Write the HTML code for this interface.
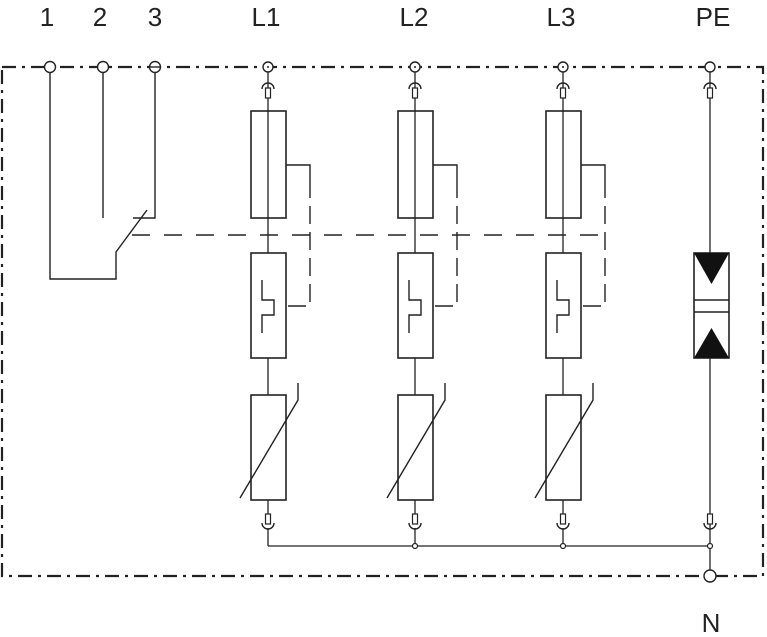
<!DOCTYPE html>
<html><head><style>body{margin:0;background:#fff}svg{display:block}</style></head><body>
<svg width="767" height="637" xmlns="http://www.w3.org/2000/svg">
<defs>
<g id="ch">
<rect x="-17" y="111" width="35" height="107" fill="none" stroke="#222" stroke-width="1.6"/>
<rect x="-17" y="253" width="35" height="105" fill="none" stroke="#222" stroke-width="1.6"/>
<rect x="-17" y="395" width="35" height="105" fill="none" stroke="#222" stroke-width="1.6"/>
<line x1="0" y1="72" x2="0" y2="253" stroke="#222" stroke-width="1.3"/>
<line x1="0" y1="358" x2="0" y2="395" stroke="#222" stroke-width="1.3"/>
<path d="M0 500V514M0 528V546" stroke="#222" stroke-width="1.3" fill="none"/>
<rect x="-2.5" y="88" width="5" height="10" fill="#fff" stroke="#222" stroke-width="1.2"/>
<path d="M-6 89A6 6 0 0 1 6 89" fill="none" stroke="#222" stroke-width="1.4"/>
<rect x="-2.5" y="514" width="5" height="10" fill="#fff" stroke="#222" stroke-width="1.2"/>
<path d="M-6 523A6 6 0 0 0 6 523" fill="none" stroke="#222" stroke-width="1.4"/>
<path d="M18 165H42V180" fill="none" stroke="#222" stroke-width="1.4"/>
<path d="M42 180V306H18" fill="none" stroke="#222" stroke-width="1.4" stroke-dasharray="18,8"/>
<path d="M-6 280V300H6V315H-6V333" fill="none" stroke="#222" stroke-width="1.4"/>
<path d="M-28 498L30 400V383" fill="none" stroke="#222" stroke-width="1.4"/>
<circle cx="0" cy="67" r="5" fill="#fff" stroke="#222" stroke-width="1.4"/>
<circle cx="0" cy="67" r="1" fill="#222"/>
</g>
</defs>
<g font-family="Liberation Sans, sans-serif" font-size="26" fill="#222" text-anchor="middle">
<text x="47" y="26">1</text><text x="100" y="26">2</text><text x="155" y="26">3</text>
<text x="266" y="26">L1</text><text x="414" y="26">L2</text><text x="561" y="26">L3</text>
<text x="713" y="26">PE</text><text x="711" y="632">N</text>
</g>
<rect x="2" y="67" width="761" height="509" fill="none" stroke="#222" stroke-width="2.2" stroke-dasharray="14,6,3,6"/>
<path d="M50 72V279H116V252L147 210M103 72V218M155 72V218H133" fill="none" stroke="#222" stroke-width="1.4"/>
<line x1="132" y1="235" x2="606" y2="235" stroke="#222" stroke-width="1.4" stroke-dasharray="18,14"/>
<circle cx="50" cy="67" r="5.5" fill="#fff" stroke="#222" stroke-width="1.4"/>
<circle cx="103" cy="67" r="5.5" fill="#fff" stroke="#222" stroke-width="1.4"/>
<circle cx="155" cy="67" r="5.5" fill="#fff" stroke="#222" stroke-width="1.4"/>
<line x1="150" y1="67" x2="160" y2="67" stroke="#222" stroke-width="1.4"/>
<use href="#ch" x="268"/><use href="#ch" x="415"/><use href="#ch" x="563"/>
<line x1="268" y1="546" x2="710" y2="546" stroke="#222" stroke-width="1.3"/>
<g transform="translate(710,0)">
<line x1="0" y1="72" x2="0" y2="571" stroke="#222" stroke-width="1.3"/>
<rect x="-2.5" y="88" width="5" height="10" fill="#fff" stroke="#222" stroke-width="1.2"/>
<path d="M-6 89A6 6 0 0 1 6 89" fill="none" stroke="#222" stroke-width="1.4"/>
<rect x="-2.5" y="514" width="5" height="10" fill="#fff" stroke="#222" stroke-width="1.2"/>
<path d="M-6 523A6 6 0 0 0 6 523" fill="none" stroke="#222" stroke-width="1.4"/>
<rect x="-16" y="253" width="35" height="105" fill="#fff" stroke="#222" stroke-width="1.6"/>
<path d="M-16 253H19L1.5 284Z M-16 358H19L1.5 328Z" fill="#111"/>
<path d="M-16 300H19M-16 312H19" stroke="#222" stroke-width="1.4"/>
<circle cx="0" cy="67" r="5" fill="#fff" stroke="#222" stroke-width="1.4"/>
<circle cx="0" cy="576" r="6" fill="#fff" stroke="#222" stroke-width="1.4"/>
</g>
<g fill="#fff" stroke="#222" stroke-width="1.2">
<circle cx="415" cy="546" r="2.5"/><circle cx="563" cy="546" r="2.5"/><circle cx="710" cy="546" r="2.5"/>
</g>
</svg>
</body></html>
